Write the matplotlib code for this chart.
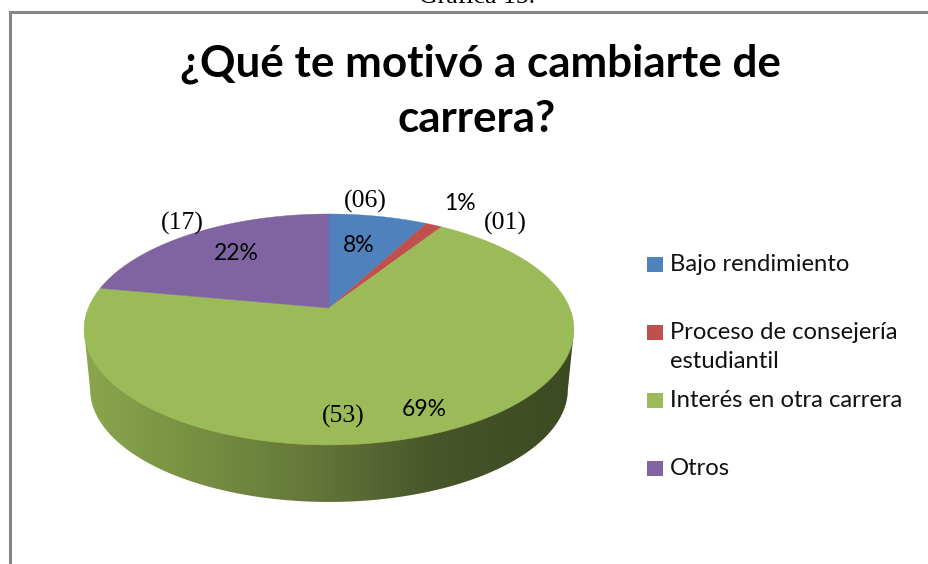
#!/usr/bin/env python3
"""Pie chart (perspective 3D look) of reasons for changing degree."""

import numpy as np
import matplotlib
matplotlib.use("Agg")
import matplotlib.pyplot as plt
from matplotlib.colors import LinearSegmentedColormap
from matplotlib.patches import Polygon, Rectangle

categories = ["Bajo rendimiento", "Proceso de consejería\nestudiantil",
              "Interés en otra carrera", "Otros"]
counts = [6, 1, 53, 17]
pct_labels = ["8%", "1%", "69%", "22%"]
count_labels = ["(06)", "(01)", "(53)", "(17)"]
colors = ["#4f81bd", "#c0504d", "#9bbb59", "#8064a2"]

W, H = 929, 564
CX, APEX_Y = 329, 308
R, S, K = 240.7, 111.5, 0.186


def project(theta, scale=1.0, y0=APEX_Y):
    """Circle angle (clockwise from the top) to pixel position, with perspective."""
    u, v = np.sin(theta), np.cos(theta)
    w = 1 + K * v
    return CX + scale * R * u / w, y0 - scale * S * v / w


fig = plt.figure(figsize=(W / 100, H / 100), dpi=100)
ax = fig.add_axes([0, 0, 1, 1])
ax.set_xlim(0, W)
ax.set_ylim(H, 0)
ax.axis("off")

# frame of the pasted chart
ax.add_patch(Rectangle((10.5, 11.5), W, H, fc="white", ec="#868686", lw=2.2))

# side wall
t = np.linspace(np.pi / 2 + 0.19, 3 * np.pi / 2 - 0.19, 200)
tx, ty = project(t)
bx, by = project(t, scale=0.975, y0=368.4)
wall = np.column_stack([np.r_[tx[0], bx, tx[-1]], np.r_[ty[0], by, ty[-1]]])
wall_patch = Polygon(wall, closed=True, fc="none", ec="none")
ax.add_patch(wall_patch)
cmap = LinearSegmentedColormap.from_list(
    "wall", [(0, "#8aa64c"), (0.45, "#66793a"), (0.72, "#47552a"), (1, "#3c4922")])
img = ax.imshow(np.linspace(0, 1, 256)[None, :], extent=(84, 574, H, 0),
                cmap=cmap, aspect="auto", zorder=1)
img.set_clip_path(wall_patch)

# top face, wedge angles come from the counts
edges = np.r_[0, np.cumsum(counts)] / sum(counts) * 2 * np.pi
for start, end, color in zip(edges[:-1], edges[1:], colors):
    a = np.linspace(start, end, 200)
    x, y = project(a)
    verts = np.column_stack([np.r_[CX, x], np.r_[APEX_Y, y]])
    ax.add_patch(Polygon(verts, closed=True, fc=color, ec=color, lw=0.3, zorder=2))

ax.set_xlim(0, W)
ax.set_ylim(H, 0)

# texts
ax.text(477, 3, "Gráfica 15.", family="Liberation Serif", fontsize=18.5,
        ha="center", va="baseline", color="black")
ax.text(480, 76, "¿Qué te motivó a cambiarte de", family="Lato", weight="bold",
        fontsize=31.7, ha="center", va="baseline", color="black")
ax.text(477, 132, "carrera?", family="Lato", weight="bold",
        fontsize=31.7, ha="center", va="baseline", color="black")

pct_pos = [(359, 245), (460, 204), (424, 409), (236, 254)]
for (x, y), s in zip(pct_pos, pct_labels):
    ax.text(x, y, s, family="Lato", fontsize=16.5, ha="center", va="center", zorder=3)

count_pos = [(365, 201), (505, 223), (343, 416), (182, 223)]
for (x, y), s in zip(count_pos, count_labels):
    ax.text(x, y, s, family="Liberation Serif", fontsize=18.5, ha="center", va="center", zorder=3)

# legend
legend_y = [264, 332, 400, 468]
for name, color, y in zip(categories, colors, legend_y):
    ax.add_patch(Rectangle((647, y - 7.5), 16, 15, fc=color, ec="none"))
    for i, line in enumerate(name.split("\n")):
        ax.text(670, y + 7 + i * 29, line, family="Lato", fontsize=17.2, ha="left",
                va="baseline", color="#111111")

fig.savefig("out.png", dpi=100)
